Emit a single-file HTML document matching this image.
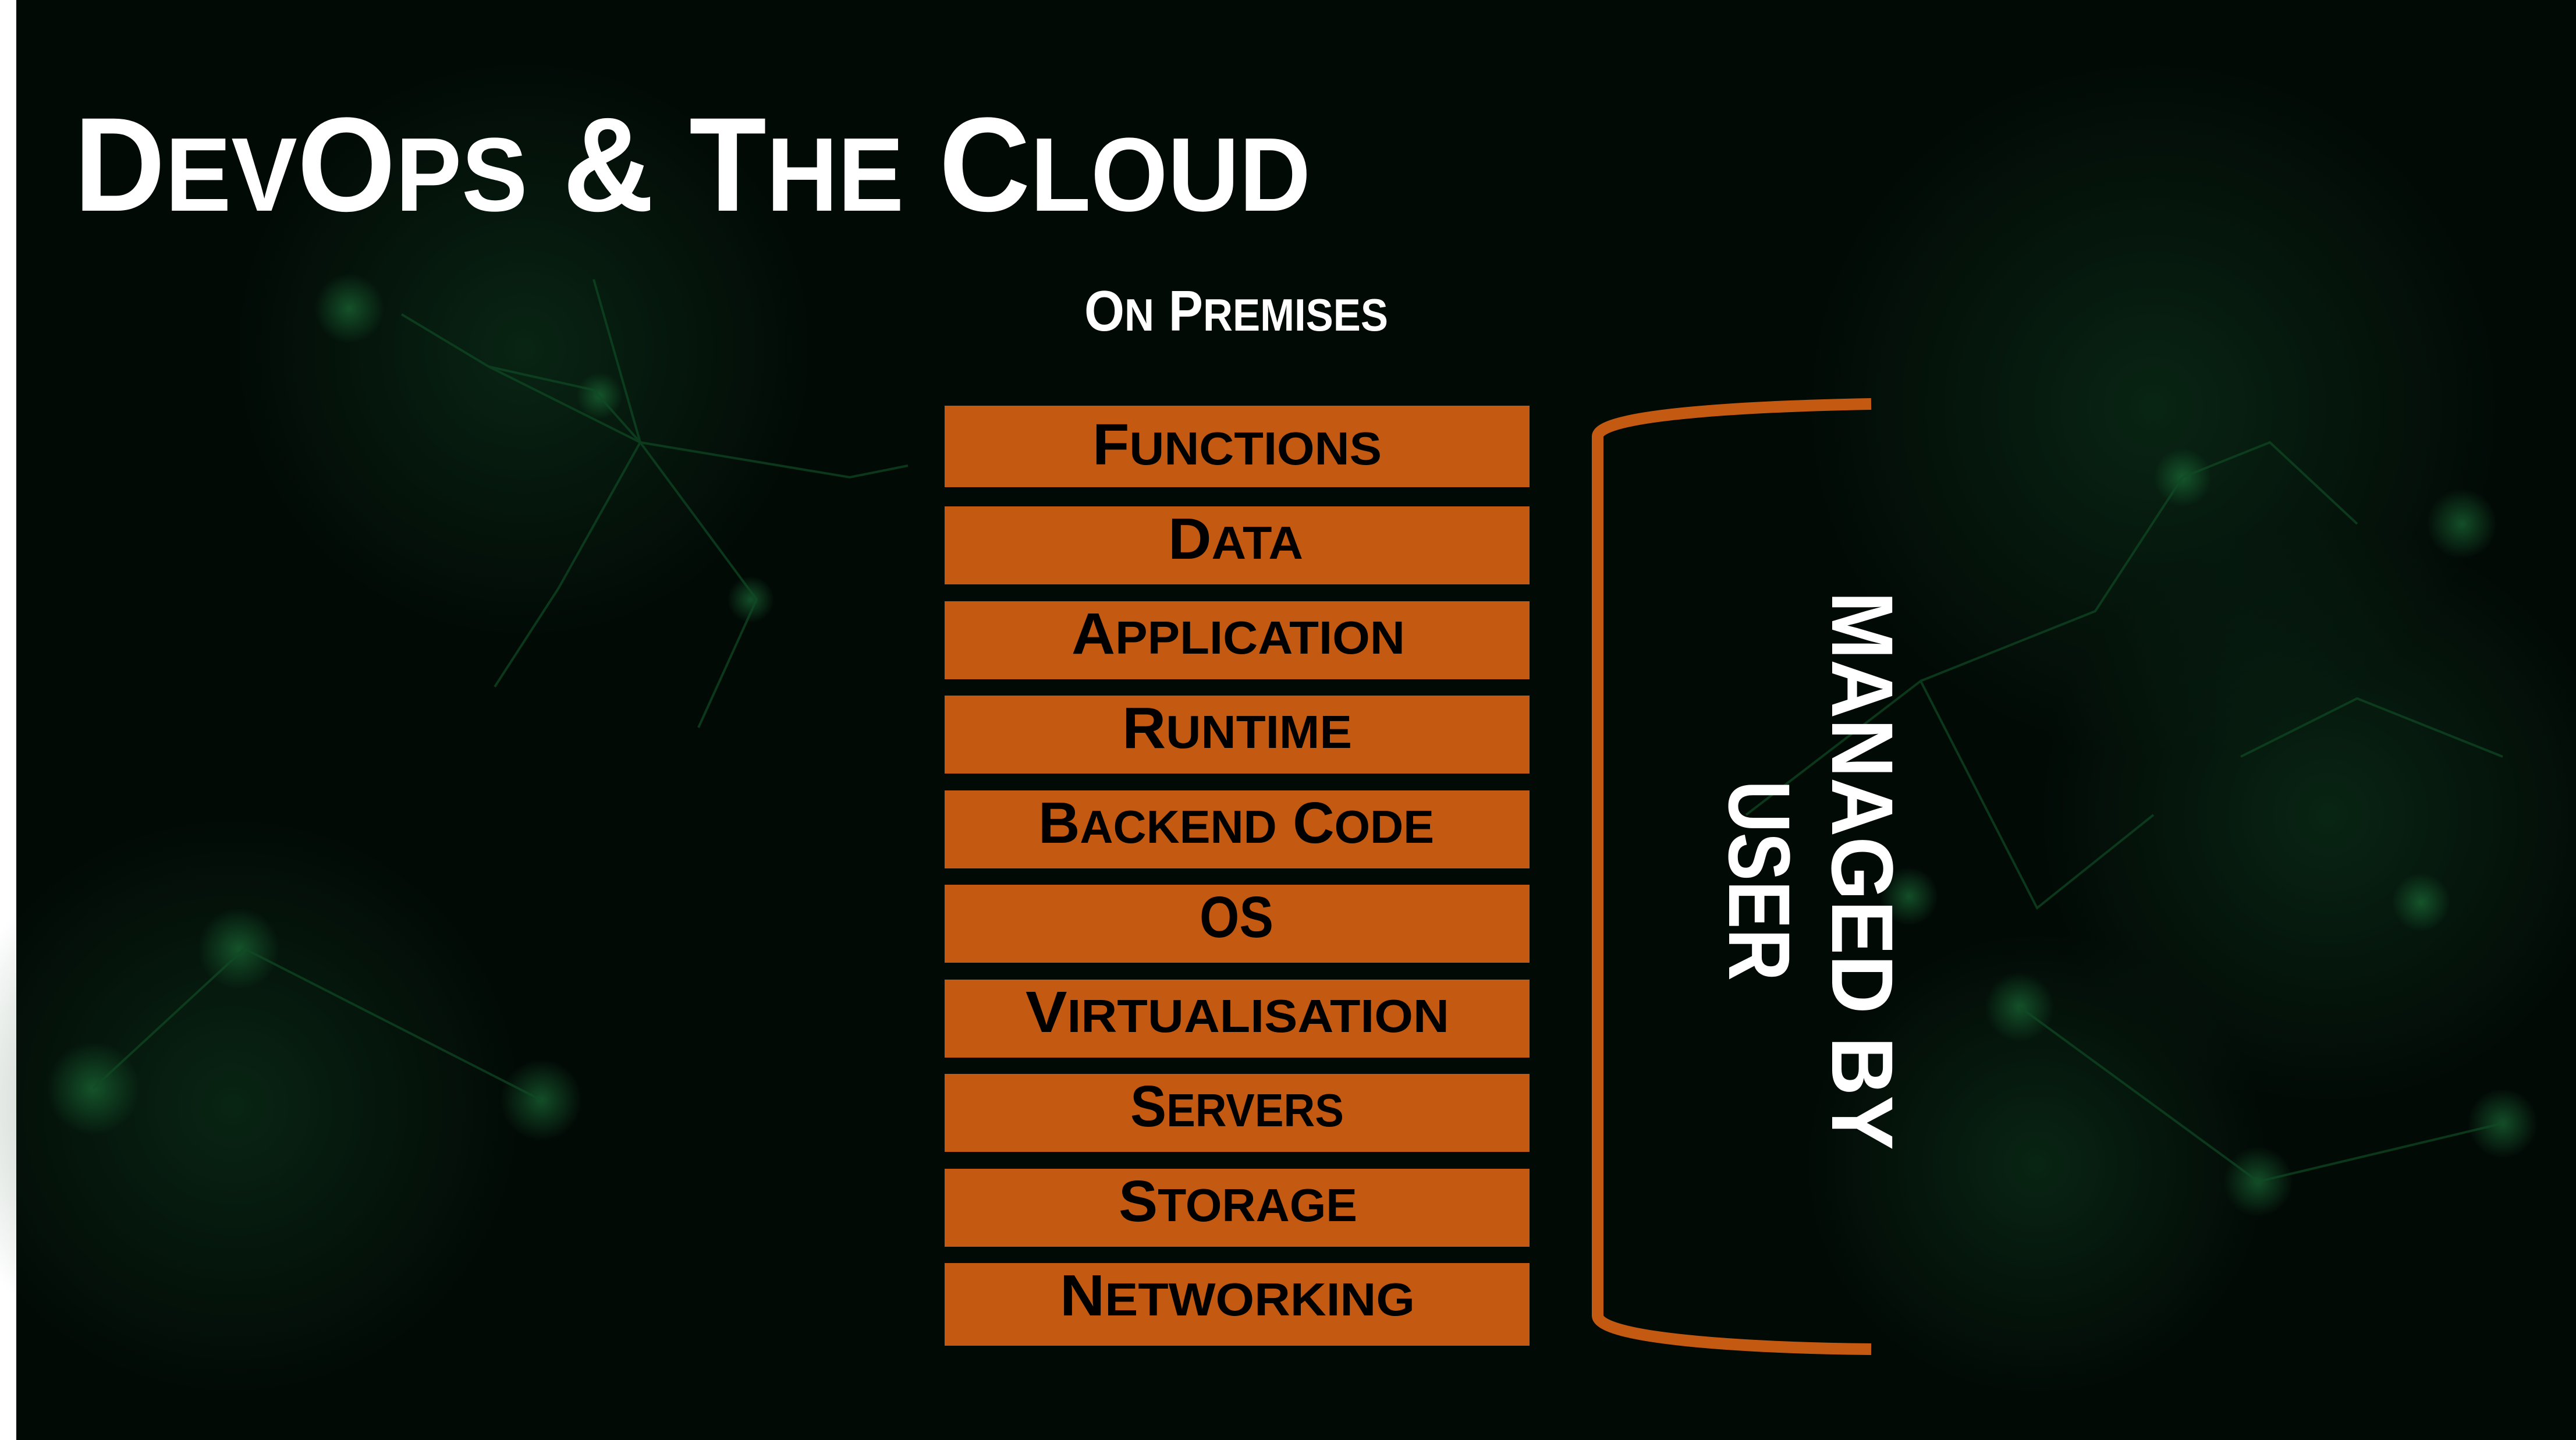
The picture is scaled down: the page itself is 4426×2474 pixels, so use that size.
<!DOCTYPE html>
<html><head><meta charset="utf-8"><style>
html,body{margin:0;padding:0;background:#020a06;}
svg{display:block}
text{font-family:"Liberation Sans",sans-serif;font-weight:bold;}
</style></head><body>
<svg width="4426" height="2474" viewBox="0 0 4426 2474" xmlns="http://www.w3.org/2000/svg">
<defs>
<radialGradient id="g1"><stop offset="0" stop-color="#0e3a1e" stop-opacity="0.55"/><stop offset="1" stop-color="#0e3a1e" stop-opacity="0"/></radialGradient>
<radialGradient id="g2"><stop offset="0" stop-color="#1f7a3e" stop-opacity="0.6"/><stop offset="1" stop-color="#1f7a3e" stop-opacity="0"/></radialGradient>
</defs>
<rect width="4426" height="2474" fill="#020a06"/>
<rect x="0" y="0" width="28" height="2474" fill="#ffffff"/>
<g>
<circle cx="900" cy="600" r="500" fill="url(#g1)"/>
<circle cx="3700" cy="700" r="600" fill="url(#g1)"/>
<circle cx="4000" cy="1400" r="500" fill="url(#g1)"/>
<circle cx="400" cy="1900" r="500" fill="url(#g1)"/>
<circle cx="3500" cy="2000" r="400" fill="url(#g1)"/>
<circle cx="600" cy="530" r="60" fill="url(#g2)"/>
<circle cx="1030" cy="680" r="40" fill="url(#g2)"/>
<circle cx="1290" cy="1030" r="40" fill="url(#g2)"/>
<circle cx="410" cy="1630" r="70" fill="url(#g2)"/>
<circle cx="160" cy="1870" r="80" fill="url(#g2)"/>
<circle cx="930" cy="1890" r="70" fill="url(#g2)"/>
<circle cx="3470" cy="1730" r="60" fill="url(#g2)"/>
<circle cx="3880" cy="2030" r="60" fill="url(#g2)"/>
<circle cx="4160" cy="1550" r="50" fill="url(#g2)"/>
<circle cx="4300" cy="1930" r="60" fill="url(#g2)"/>
<circle cx="3750" cy="820" r="50" fill="url(#g2)"/>
<circle cx="4230" cy="900" r="60" fill="url(#g2)"/>
<circle cx="3280" cy="1540" r="50" fill="url(#g2)"/>
</g>
<g stroke="#0f4a25" stroke-width="4" fill="none" opacity="0.7">
<polyline points="690,540 840,630 1020,670 1100,760 1300,1030 1200,1250"/>
<polyline points="840,630 1100,760 1460,820 1560,800"/>
<polyline points="1020,480 1100,760 960,1010 850,1180"/>
<polyline points="3300,1170 3600,1050 3750,820 3900,760 4050,900"/>
<polyline points="3850,1300 4050,1200 4300,1300"/>
<polyline points="160,1870 420,1630 930,1890"/>
<polyline points="3470,1730 3880,2030 4300,1930"/>
<polyline points="3000,1400 3300,1170 3500,1560 3700,1400"/>
</g>
<text x="127" y="362" font-size="230" fill="#ffffff" textLength="2125" lengthAdjust="spacingAndGlyphs">D<tspan font-size="180">EV</tspan>O<tspan font-size="180">PS</tspan> &amp; T<tspan font-size="180">HE</tspan> C<tspan font-size="180">LOUD</tspan></text>
<text x="1863" y="568" font-size="98" fill="#ffffff" textLength="522" lengthAdjust="spacingAndGlyphs">O<tspan font-size="78">N</tspan> P<tspan font-size="78">REMISES</tspan></text>
<g fill="#c45a12">
<rect x="1623" y="697" width="1005" height="140"/>
<rect x="1623" y="870" width="1005" height="134"/>
<rect x="1623" y="1033" width="1005" height="134"/>
<rect x="1623" y="1195" width="1005" height="134"/>
<rect x="1623" y="1358" width="1005" height="134"/>
<rect x="1623" y="1520" width="1005" height="134"/>
<rect x="1623" y="1683" width="1005" height="134"/>
<rect x="1623" y="1845" width="1005" height="134"/>
<rect x="1623" y="2008" width="1005" height="134"/>
<rect x="1623" y="2170" width="1005" height="142"/>
</g>
<g fill="#000000">
<text x="1877" y="798" font-size="100" textLength="497" lengthAdjust="spacingAndGlyphs">F<tspan font-size="80">UNCTIONS</tspan></text>
<text x="2007" y="960" font-size="100" textLength="232" lengthAdjust="spacingAndGlyphs">D<tspan font-size="80">ATA</tspan></text>
<text x="1841" y="1123" font-size="100" textLength="573" lengthAdjust="spacingAndGlyphs">A<tspan font-size="80">PPLICATION</tspan></text>
<text x="1928" y="1285" font-size="100" textLength="395" lengthAdjust="spacingAndGlyphs">R<tspan font-size="80">UNTIME</tspan></text>
<text x="1784" y="1448" font-size="100" textLength="680" lengthAdjust="spacingAndGlyphs">B<tspan font-size="80">ACKEND</tspan> C<tspan font-size="80">ODE</tspan></text>
<text x="2061" y="1610" font-size="100" textLength="127" lengthAdjust="spacingAndGlyphs">OS</text>
<text x="1762" y="1773" font-size="100" textLength="728" lengthAdjust="spacingAndGlyphs">V<tspan font-size="80">IRTUALISATION</tspan></text>
<text x="1942" y="1935" font-size="100" textLength="367" lengthAdjust="spacingAndGlyphs">S<tspan font-size="80">ERVERS</tspan></text>
<text x="1922" y="2098" font-size="100" textLength="410" lengthAdjust="spacingAndGlyphs">S<tspan font-size="80">TORAGE</tspan></text>
<text x="1821" y="2260" font-size="100" textLength="610" lengthAdjust="spacingAndGlyphs">N<tspan font-size="80">ETWORKING</tspan></text>
</g>
<path d="M3215,694 C3000,698 2745,712 2745,750 L2745,2260 C2745,2300 3000,2316 3215,2318" stroke="#c45a12" stroke-width="20" fill="none"/>
<text transform="translate(3148,1016) rotate(90)" font-size="150" fill="#ffffff" textLength="960" lengthAdjust="spacingAndGlyphs">MANAGED BY</text>
<text transform="translate(2971,1341) rotate(90)" font-size="150" fill="#ffffff" textLength="344" lengthAdjust="spacingAndGlyphs">USER</text>
</svg>
</body></html>
